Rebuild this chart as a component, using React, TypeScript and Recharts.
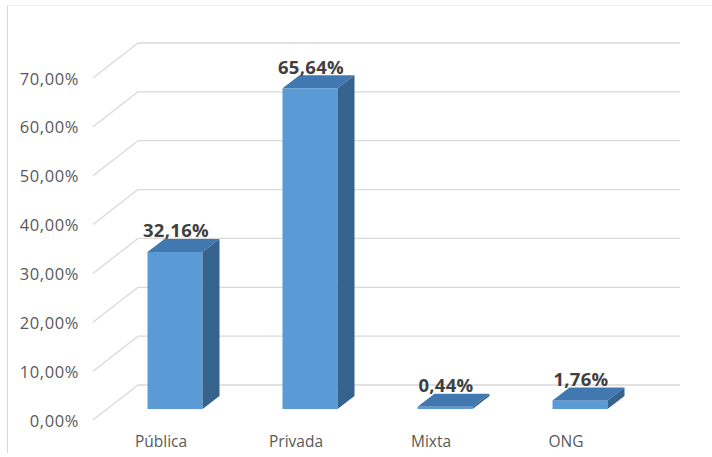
import { BarChart, Bar, XAxis, YAxis, CartesianGrid, LabelList } from "recharts";

const categories = ["Pública", "Privada", "Mixta", "ONG"];
const shares = [32.16, 65.64, 0.44, 1.76];
const yTicks = [0, 10, 20, 30, 40, 50, 60, 70];

const data = categories.map((name, i) => ({ name, value: shares[i] }));

const FONT = "'Open Sans', sans-serif";
const DEPTH_X = 17;
const DEPTH_Y = 13;

const fmt = (v: number, digits: number) => v.toFixed(digits).replace(".", ",") + "%";

// 3d-ish box like the excel column
const Box3D = (props: any) => {
  const { x, y, width, height } = props;
  if (x == null || y == null) return null;
  const h = Math.max(height, 0);
  const dx = DEPTH_X;
  const dy = DEPTH_Y;
  return (
    <g>
      <rect x={x} y={y} width={width} height={h} fill="#5B9BD5" />
      <polygon
        points={`${x},${y} ${x + dx},${y - dy} ${x + width + dx},${y - dy} ${x + width},${y}`}
        fill="#4178B0"
      />
      <polygon
        points={`${x + width},${y} ${x + width + dx},${y - dy} ${x + width + dx},${y + h - dy} ${x + width},${y + h}`}
        fill="#36638E"
      />
    </g>
  );
};

// back wall line + diagonal to the front, offset like a 3d floor
const GridLine = (props: any) => {
  const { x1, x2, y1, index } = props;
  const backY = y1 - 24;
  const backX = x1 + 30.5;
  return (
    <g key={`g-${index}`}>
      <line x1={backX} y1={backY} x2={x2 + 32.5} y2={backY} stroke="#d9d9d9" strokeWidth={1.3} />
      <line x1={x1 - 14.5} y1={y1 + 11} x2={backX} y2={backY} stroke="#d9d9d9" strokeWidth={1.3} />
    </g>
  );
};

const YTick = (props: any) => {
  const { y, payload } = props;
  return (
    <text
      x={79}
      y={y + 11}
      textAnchor="end"
      dominantBaseline="central"
      fill="#595959"
      fontSize={16.5}
      letterSpacing={0.6}
      fontFamily={FONT}
    >
      {fmt(payload.value, 2)}
    </text>
  );
};

const XTick = (props: any) => {
  const { x, payload } = props;
  return (
    <text x={x - 14} y={441} textAnchor="middle" dominantBaseline="central" fill="#595959" fontSize={15.5} fontFamily={FONT}>
      {payload.value}
    </text>
  );
};

const ValueLabel = (props: any) => {
  const { x, y, width, value } = props;
  return (
    <text
      x={x + width / 2 + 1}
      y={y - 22}
      textAnchor="middle"
      dominantBaseline="central"
      fill="#404040"
      fontSize={18.5}
      letterSpacing={0.3}
      fontWeight="bold"
      fontFamily={FONT}
    >
      {fmt(value, 2)}
    </text>
  );
};

export default function App() {
  return (
    <div style={{ position: "absolute", left: 0, top: 0, width: 712, height: 457, background: "#fff" }}>
      <div
        style={{
          position: "absolute",
          left: 7,
          top: 5,
          width: 705,
          height: 447,
          borderLeft: "1px solid #d9d9d9",
          borderTop: "1px solid #efefef",
        }}
      />
      <BarChart
        width={712}
        height={457}
        data={data}
        margin={{ top: 67, right: 64.5, bottom: 18, left: 7.5 }}
        style={{ position: "absolute", left: 0, top: 0 }}
      >
        <CartesianGrid vertical={false} horizontal={(p: any) => <GridLine {...p} />} />
        <XAxis dataKey="name" height={30} axisLine={false} tickLine={false} tick={<XTick />} interval={0} />
        <YAxis
          width={100}
          domain={[0, 70]}
          ticks={yTicks}
          axisLine={false}
          tickLine={false}
          tick={<YTick />}
        />
        <Bar dataKey="value" barSize={55} shape={<Box3D />} isAnimationActive={false}>
          <LabelList dataKey="value" content={<ValueLabel />} />
        </Bar>
      </BarChart>
    </div>
  );
}
